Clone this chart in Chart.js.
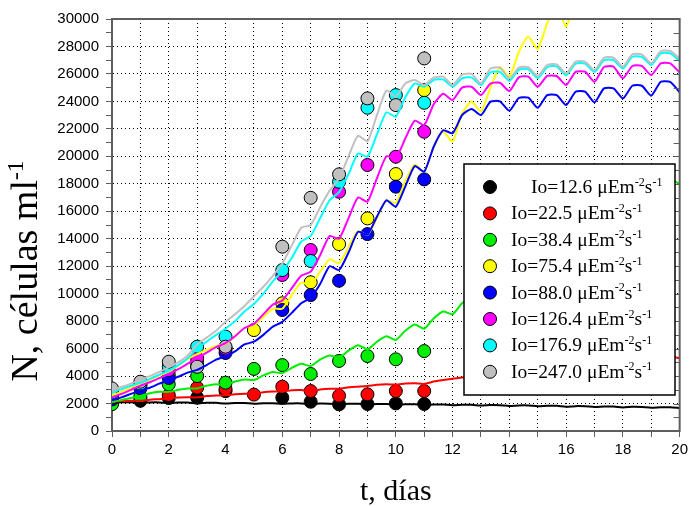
<!DOCTYPE html>
<html>
<head>
<meta charset="utf-8">
<script src="https://cdn.jsdelivr.net/npm/chart.js@4.4.0/dist/chart.umd.min.js"></script>
<style>
  html, body { margin: 0; padding: 0; background: #fff; }
</style>
</head>
<body>
<canvas id="chart" width="692" height="506"></canvas>
<script>
// measured days (markers)
const days = [0, 1, 2, 3, 4, 5, 6, 7, 8, 9, 10, 11];

const obs12_6 = [2000, 2200, 2400, 2430, 2900, null, 2430, 2130, 1940, 1965, 2010, 1965];
const obs22_5 = [2150, 2400, 2620, 3150, 3060, 2650, 3230, 2910, 2570, 2670, 2910, 2910];
const obs38_4 = [1950, 2500, 3400, 4000, 3520, 4520, 4800, 4150, 5100, 5460, 5220, 5820];
const obs75_4 = [2600, 3300, 4100, 5000, 6000, 7350, 9300, 10830, 13610, 15480, 18710, 24820];
const obs88_0 = [2300, 3100, 3860, 4700, 5680, null, 8810, 9900, 10940, 14340, 17790, 18320];
const obs126_4 = [2500, 3350, 4440, 5310, 6000, null, 11360, 13180, 17420, 19370, 19970, 21790];
const obs176_9 = [2800, 3450, 4700, 6140, 6870, null, 11720, 12380, 18150, 23540, 24460, 23900];
const obs247_0 = [3100, 3590, 5045, 4680, 6140, null, 13420, 16980, 18690, 24220, 23730, 27130];

// model curves, read every 1/3 day from 0 to 20
const tModel = Array.from({ length: 61 }, (_, i) => i / 3);

const fit12_6 = [2050, 2090, 2090, 2050, 2080, 2080, 2030, 2070, 2070, 2010, 2050, 2050, 2000, 2040, 2030,
  1990, 2020, 2020, 1980, 2010, 2010, 1960, 2000, 1990, 1950, 1980, 1980, 1930, 1970, 1960, 1920, 1950, 1950,
  1900, 1930, 1930, 1880, 1910, 1910, 1850, 1890, 1880, 1820, 1860, 1860, 1800, 1830, 1830, 1770, 1810, 1800,
  1750, 1780, 1780, 1720, 1760, 1750, 1700, 1730, 1730, 1670];
const fit22_5 = [2130, 2180, 2200, 2200, 2280, 2320, 2380, 2440, 2460, 2450, 2540, 2580, 2600, 2680, 2720,
  2720, 2820, 2870, 2880, 2960, 2980, 2900, 3020, 3080, 3080, 3180, 3230, 3280, 3360, 3400, 3380, 3450, 3480,
  3430, 3600, 3720, 3800, 3900, 3950, 3950, 4080, 4120, 4150, 4280, 4320, 4350, 4480, 4520, 4550, 4700, 4750,
  4780, 4930, 4980, 5000, 5150, 5200, 5200, 5400, 5450, 5300];
const fit38_4 = [2100, 2250, 2400, 2550, 2750, 2850, 2850, 3000, 3100, 3100, 3300, 3400, 3350, 3600, 3750,
  3710, 4050, 4300, 4200, 4600, 4900, 4730, 5200, 5500, 5360, 5850, 6250, 5950, 6500, 6900, 6630, 7300, 7750,
  7450, 8200, 8700, 8500, 9300, 9700, 9600, 10400, 10900, 10700, 11600, 12100, 11900, 12800, 13300,
  13100, 14000, 14500, 14300, 15200, 15700, 15500, 16400, 16900, 16700, 17700, 18300, 18000];
const fit75_4 = [2600, 2850, 3150, 3400, 3700, 4050, 4300, 4750, 5250, 5600, 5900, 6200, 6350, 6900, 7500,
  7700, 8300, 8900, 8900, 9900, 10800, 10630, 11600, 12500, 12210, 13400, 14550, 14270, 15500, 16800,
  16600, 18200, 19400, 18880, 20700, 21800, 21070, 23100, 24000, 23250, 25000, 26500, 25800, 27600, 28700,
  27820, 29700, 31000, 29440, 31500, 33000, 32000, 33800, 35000, 34300, 36000, 37000, 36200, 38000, 39000, 38500];
const fit88_0 = [2250, 2450, 2700, 2950, 3150, 3450, 3700, 3950, 4250, 4450, 4800, 5200, 5450, 5800, 6300,
  6500, 7000, 7600, 7950, 8600, 9300, 9700, 10700, 12000, 11720, 13000, 14500, 14300, 15600, 16800,
  16330, 17800, 19300, 18880, 20700, 21900, 21680, 23000, 23450, 23010, 23980, 24000, 23320, 24250, 24270,
  23540, 24460, 24460, 23730, 24700, 24710, 23930, 24950, 24950, 24220, 25140, 25140, 24420, 25430, 25420, 24660];
const fit126_4 = [2450, 2700, 3000, 3300, 3550, 3850, 4150, 4500, 4900, 5300, 5700, 6100, 6400, 6900, 7500,
  7800, 8500, 9200, 9500, 10400, 11300, 11600, 12800, 14200, 14000, 15500, 17000, 16700, 18400, 20000,
  19860, 21300, 22600, 22280, 23800, 24550, 24100, 25000, 25070, 24460, 25300, 25360, 24750, 25750, 25800,
  25070, 25850, 25850, 25190, 26150, 26160, 25430, 26500, 26530, 25680, 26580, 26580, 25920, 26770, 26770, 26110];
const fit176_9 = [2800, 3050, 3300, 3500, 3800, 4100, 4400, 4800, 5300, 6000, 6500, 7000, 7450, 8000, 8700,
  9250, 10000, 10900, 11650, 12600, 13800, 14200, 15500, 16800, 17400, 18700, 20200, 19970, 21600, 23200,
  22890, 24300, 25310, 25070, 25560, 25600, 25070, 25680, 25750, 25190, 26110, 26150, 25500, 26300, 26350,
  25700, 26500, 26550, 25900, 26750, 26750, 26150, 27000, 27000, 26400, 27250, 27250, 26650, 27500, 27500, 26950];
const fit247_0 = [2950, 3200, 3450, 3750, 4000, 4300, 4650, 5000, 5500, 6300, 6800, 7300, 7950, 8500, 9100,
  9800, 10500, 11300, 12200, 13500, 14800, 15000, 16300, 17500, 18400, 20000, 21500, 21100, 23000, 24800,
  24340, 25300, 25550, 25190, 25720, 25800, 25190, 25950, 26000, 25310, 26400, 26450, 25680, 26460, 26500,
  25850, 26650, 26700, 26040, 26890, 26900, 26280, 27180, 27180, 26530, 27430, 27430, 26770, 27670, 27670, 27130];

const irradiance = ['12.6', '22.5', '38.4', '75.4', '88.0', '126.4', '176.9', '247.0'];
const observed = [obs12_6, obs22_5, obs38_4, obs75_4, obs88_0, obs126_4, obs176_9, obs247_0];
const fitted = [fit12_6, fit22_5, fit38_4, fit75_4, fit88_0, fit126_4, fit176_9, fit247_0];
const colors = ['#000000', '#ff0000', '#00ee00', '#ffff00', '#0000ff', '#ff00ff', '#00ffff', '#c0c0c0'];

const axisColor = '#5e5e5e';
const sans = '"Liberation Sans", Arial, sans-serif';
const serif = '"Liberation Serif", "Times New Roman", serif';

const datasets = [];
observed.forEach((vals, i) => {
  datasets.push({
    type: 'scatter',
    data: days.map((d, j) => ({ x: d, y: vals[j] })),
    backgroundColor: colors[i],
    borderColor: '#000',
    borderWidth: 1,
    pointRadius: 6.5,
    pointHoverRadius: 6.5,
    order: 30 - i,
  });
});
fitted.forEach((vals, i) => {
  datasets.push({
    type: 'line',
    data: tModel.map((t, j) => ({ x: t, y: vals[j] })),
    borderColor: colors[i],
    borderWidth: 2,
    pointRadius: 0,
    tension: 0.2,
    fill: false,
    order: 10 - i,
  });
});

// text with superscript parts
function richWidth(ctx, parts, size) {
  let w = 0;
  parts.forEach(p => {
    ctx.font = (p.sup ? size * 0.62 : size) + 'px ' + serif;
    w += ctx.measureText(p.t).width;
  });
  return w;
}
function drawRich(ctx, parts, x, y, size) {
  parts.forEach(p => {
    const s = p.sup ? size * 0.62 : size;
    ctx.font = s + 'px ' + serif;
    ctx.fillText(p.t, x, p.sup ? y - size * 0.38 : y);
    x += ctx.measureText(p.t).width;
  });
}

const framePlugin = {
  id: 'frame',
  afterDraw(chart) {
    const { ctx, chartArea: a, scales } = chart;
    const y = scales.y;
    ctx.save();
    // top and right border, right side has inner ticks
    ctx.strokeStyle = axisColor;
    ctx.lineWidth = 2;
    ctx.beginPath();
    ctx.moveTo(a.left - 1, a.top);
    ctx.lineTo(a.right, a.top);
    ctx.lineTo(a.right, a.bottom + 1);
    ctx.stroke();
    ctx.lineWidth = 1;
    for (let v = 1000; v < 30000; v += 1000) {
      const py = Math.round(y.getPixelForValue(v)) + 0.5;
      ctx.beginPath();
      ctx.moveTo(a.right - 6, py);
      ctx.lineTo(a.right, py);
      ctx.stroke();
    }

    ctx.fillStyle = '#000';
    ctx.textBaseline = 'alphabetic';

    // x title
    ctx.font = '30px ' + serif;
    ctx.textAlign = 'center';
    ctx.fillText('t, días', (a.left + a.right) / 2, 500);

    // y title
    ctx.textAlign = 'left';
    const yParts = [{ t: 'N, células ml' }, { t: '-1', sup: true }];
    const yw = richWidth(ctx, yParts, 38);
    ctx.save();
    ctx.translate(37, 271);
    ctx.rotate(-Math.PI / 2);
    drawRich(ctx, yParts, -yw / 2, 0, 38);
    ctx.restore();

    // legend box
    const box = { left: 464, top: 164, right: 675, bottom: 395 };
    ctx.fillStyle = '#fff';
    ctx.fillRect(box.left, box.top, box.right - box.left, box.bottom - box.top);
    ctx.strokeStyle = '#000';
    ctx.lineWidth = 1.5;
    ctx.strokeRect(box.left, box.top, box.right - box.left, box.bottom - box.top);
    irradiance.forEach((io, i) => {
      const cy = 187 + i * 26.4;
      ctx.beginPath();
      ctx.arc(490, cy, 6.5, 0, Math.PI * 2);
      ctx.fillStyle = colors[i];
      ctx.fill();
      ctx.lineWidth = 1;
      ctx.strokeStyle = '#000';
      ctx.stroke();
      ctx.fillStyle = '#000';
      const parts = [{ t: 'Io=' + io + ' μEm' }, { t: '-2', sup: true }, { t: 's' }, { t: '-1', sup: true }];
      drawRich(ctx, parts, i === 0 ? 531 : 511, cy + 6, 19.5);
    });
    ctx.restore();
  }
};

new Chart(document.getElementById('chart'), {
  data: { datasets },
  options: {
    responsive: false,
    animation: false,
    layout: { padding: { left: 0, right: 9, top: 19, bottom: 0 } },
    plugins: { legend: { display: false }, tooltip: { enabled: false } },
    scales: {
      x: {
        type: 'linear',
        min: 0,
        max: 20,
        ticks: {
          stepSize: 1,
          autoSkip: false,
          maxRotation: 0,
          padding: 4,
          color: '#000',
          font: { family: sans, size: 15 },
          callback: v => (v % 2 === 0 ? String(v) : ''),
        },
        grid: { color: '#000', lineWidth: 1, tickColor: axisColor, tickLength: 6, tickWidth: 1 },
        border: { color: axisColor, width: 2, dash: [1, 3] },
        afterFit: s => { s.height = 75; },
      },
      y: {
        type: 'linear',
        min: 0,
        max: 30000,
        ticks: {
          stepSize: 1000,
          autoSkip: false,
          padding: 7,
          color: '#000',
          font: { family: sans, size: 15 },
          callback: v => (v % 2000 === 0 ? String(v) : ''),
        },
        grid: {
          color: c => (c.tick && c.tick.value % 2000 === 0 ? '#000' : 'rgba(0,0,0,0)'),
          lineWidth: 1,
          tickColor: axisColor,
          tickLength: 6,
          tickWidth: 1,
        },
        border: { color: axisColor, width: 2, dash: [1, 3] },
        afterFit: s => { s.width = 112; },
      },
    },
  },
  plugins: [framePlugin],
});
</script>
</body>
</html>
